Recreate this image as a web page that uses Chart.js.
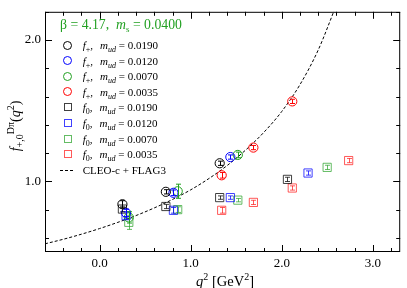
<!DOCTYPE html>
<html>
<head>
<meta charset="utf-8">
<script src="https://cdn.jsdelivr.net/npm/chart.js@4.4.0/dist/chart.umd.min.js"></script>
<style>
    body { margin: 0; background: #fff; }
    #wrap { position: relative; width: 407px; height: 288px; font-family: 'Liberation Serif', 'DejaVu Serif', serif; color: #000; }
    #chart { position: absolute; left: 0; top: 0; }
    .ov { position: absolute; white-space: nowrap; line-height: 1; }
    .ov sub, .ov sup { font-size: 10px; line-height: 0; }
    .ov sub { vertical-align: -3px; }
    .ov sup { vertical-align: 6px; }
    .row { position: absolute; left: 60px; height: 14px; font-size: 11px; line-height: 14px; white-space: nowrap; }
    .row sub { font-size: 8px; line-height: 0; vertical-align: -3px; }
    .sym { position: absolute; box-sizing: border-box; border: 1px solid; }
    .sym.c { width: 9px; height: 9px; border-radius: 50%; left: 3px; top: 2.5px; }
    .sym.s { width: 8px; height: 8px; left: 3.5px; top: 3px; }
    .row .txt { position: absolute; left: 22.7px; top: 0; }
    .gap { margin-left: 7px; }
</style>
</head>
<body>
<div id="wrap">
    <canvas id="chart" width="407" height="288"></canvas>
    <div class="ov" id="title" style="left:60px; top:18px; font-size:13.75px; color:#22a022;">β = 4.17,&nbsp; <i>m</i><sub style="font-size:9px">s</sub> = 0.0400</div>
    <div id="legend"></div>
    <div class="ov" style="left:16px; top:126px; font-size:14px; transform: translate(-50%,-50%) rotate(-90deg);"><i>f</i><sub>+,0</sub><sup>Dπ</sup>(<i>q</i><sup>2</sup>)</div>
    <div class="ov" style="left:225px; top:281px; font-size:14.5px; transform: translate(-50%,-50%);"><i>q</i><sup>2</sup> [GeV<sup>2</sup>]</div>
</div>
<script>
// ── Data ──

const q2_0190 = [0.25, 0.727, 1.318, 2.062];
const q2_0120 = [0.29, 0.81, 1.435, 2.288];
const q2_0070 = [0.32, 0.857, 1.517, 2.498];
const q2_0035 = [1.34, 1.688, 2.115, 2.734];

const fPlus_0190 = [0.838, 0.926, 1.128];
const fPlus_0120 = [0.777, 0.919, 1.172];
const fPlus_0070 = [0.745, 0.930, 1.187];
const fPlus_0035 = [1.043, 1.239, 1.566];

const fZero_0190 = [0.804, 0.822, 0.885, 1.014];
const fZero_0120 = [0.757, 0.795, 0.885, 1.059];
const fZero_0070 = [0.710, 0.800, 0.867, 1.099];
const fZero_0035 = [0.795, 0.851, 0.953, 1.147];

const errPlus_0190 = [0.025, 0.015, 0.015];
const errPlus_0120 = [0.025, 0.02, 0.015];
const errPlus_0070 = [0.04, 0.05, 0.02];
const errPlus_0035 = [0.02, 0.015, 0.015];

const errZero_0190 = [0.02, 0.015, 0.012, 0.015];
const errZero_0120 = [0.025, 0.02, 0.012, 0.015];
const errZero_0070 = [0.05, 0.02, 0.012, 0.015];
const errZero_0035 = [0.02, 0.015, 0.015, 0.015];

const curveQ2 = [-0.6, -0.4, -0.2, 0.0, 0.2, 0.4, 0.6, 0.8, 1.0, 1.2, 1.4, 1.6, 1.8, 2.0, 2.2, 2.4, 2.6];
const curveF  = [0.558, 0.590, 0.626, 0.666, 0.710, 0.758, 0.812, 0.872, 0.940, 1.020, 1.112, 1.220, 1.345, 1.495, 1.685, 1.930, 2.250];

const xTickLabels = [0, 1, 2, 3];
const yTickLabels = [1, 2];

const mudLabels = ['0.0190', '0.0120', '0.0070', '0.0035'];
const colors = ['#000000', '#0000ff', '#22a022', '#ff0000'];
const colorsZero = ['rgba(0,0,0,0.75)', 'rgba(0,0,255,0.75)', 'rgba(34,160,34,0.7)', 'rgba(255,0,0,0.65)'];

// ── Build datasets ──

const pts = (xs, ys) => ys.map((v, i) => ({ x: xs[i], y: v }));

const plusSets = [
    [q2_0190, fPlus_0190, errPlus_0190],
    [q2_0120, fPlus_0120, errPlus_0120],
    [q2_0070, fPlus_0070, errPlus_0070],
    [q2_0035, fPlus_0035, errPlus_0035],
];
const zeroSets = [
    [q2_0190, fZero_0190, errZero_0190],
    [q2_0120, fZero_0120, errZero_0120],
    [q2_0070, fZero_0070, errZero_0070],
    [q2_0035, fZero_0035, errZero_0035],
];

const datasets = [];
zeroSets.forEach(([q, f, e], i) => datasets.push({
    label: 'f0 ' + mudLabels[i],
    data: pts(q, f), err: e,
    pointStyle: 'rect', pointRadius: 5.8, pointHoverRadius: 5.8,
    borderColor: colorsZero[i], backgroundColor: 'rgba(0,0,0,0)', borderWidth: 1,
    showLine: false,
}));
plusSets.forEach(([q, f, e], i) => datasets.push({
    label: 'f+ ' + mudLabels[i],
    data: pts(q, f), err: e,
    pointStyle: 'circle', pointRadius: 4.6, pointHoverRadius: 4.6,
    borderColor: colors[i], backgroundColor: 'rgba(0,0,0,0)', borderWidth: 1,
    showLine: false,
}));
datasets.push({
    label: 'CLEO-c + FLAG3',
    data: pts(curveQ2, curveF),
    showLine: true, pointRadius: 0, borderColor: '#000', borderWidth: 1,
    borderDash: [3, 2], cubicInterpolationMode: 'monotone', fill: false,
});

// ── Plugins: error bars, frame with inward ticks ──

const errorBars = {
    id: 'errorBars',
    afterDatasetsDraw(chart) {
        const { ctx, scales: { x, y } } = chart;
        chart.data.datasets.forEach(ds => {
            if (!ds.err) return;
            ctx.save();
            ctx.strokeStyle = ds.borderColor;
            ctx.lineWidth = 1;
            ds.data.forEach((p, j) => {
                const px = Math.round(x.getPixelForValue(p.x)) + 0.5;
                const y1 = y.getPixelForValue(p.y - ds.err[j]);
                const y2 = y.getPixelForValue(p.y + ds.err[j]);
                ctx.beginPath();
                ctx.moveTo(px, y1); ctx.lineTo(px, y2);
                ctx.moveTo(px - 2.5, y1); ctx.lineTo(px + 2.5, y1);
                ctx.moveTo(px - 2.5, y2); ctx.lineTo(px + 2.5, y2);
                ctx.stroke();
            });
            ctx.restore();
        });
    }
};

const frameTicks = {
    id: 'frameTicks',
    afterDraw(chart) {
        const { ctx, chartArea: a, scales: { x, y } } = chart;
        ctx.save();
        ctx.strokeStyle = '#000';
        ctx.lineWidth = 1;
        ctx.strokeRect(a.left + 0.5, a.top + 0.5, a.right - a.left - 1, a.bottom - a.top - 1);
        ctx.beginPath();
        for (let k = -3; k <= 16; k++) {
            const v = k * 0.2;
            const len = k % 5 === 0 ? 7 : 4;
            const px = Math.round(x.getPixelForValue(v)) + 0.5;
            ctx.moveTo(px, a.bottom); ctx.lineTo(px, a.bottom - len);
            ctx.moveTo(px, a.top); ctx.lineTo(px, a.top + len);
        }
        for (let k = 3; k <= 11; k++) {
            const v = k * 0.2;
            const len = k % 5 === 0 ? 7 : 4;
            const py = Math.round(y.getPixelForValue(v)) + 0.5;
            ctx.moveTo(a.left, py); ctx.lineTo(a.left + len, py);
            ctx.moveTo(a.right, py); ctx.lineTo(a.right - len, py);
        }
        ctx.stroke();
        ctx.restore();
    }
};

const tickFont = { family: "'Liberation Serif', serif", size: 13 };

new Chart(document.getElementById('chart'), {
    type: 'scatter',
    data: { datasets },
    plugins: [errorBars, frameTicks],
    options: {
        responsive: false,
        animation: false,
        events: [],
        layout: { padding: { top: 1, right: 4, left: 0, bottom: 0 } },
        plugins: { legend: { display: false }, tooltip: { enabled: false } },
        scales: {
            x: {
                type: 'linear', min: -0.6, max: 3.3,
                grid: { display: false, drawTicks: false },
                border: { display: false },
                afterBuildTicks: s => { s.ticks = xTickLabels.map(v => ({ value: v })); },
                afterFit: s => { s.height = 36; },
                ticks: { color: '#000', font: tickFont, padding: 4, maxRotation: 0, callback: v => v.toFixed(1) },
            },
            y: {
                type: 'linear', min: 0.5, max: 2.2,
                grid: { display: false, drawTicks: false },
                border: { display: false },
                afterBuildTicks: s => { s.ticks = yTickLabels.map(v => ({ value: v })); },
                afterFit: s => { s.width = 45; },
                ticks: { color: '#000', font: tickFont, padding: 4, callback: v => v.toFixed(1) },
            },
        },
    },
});

// ── Legend (HTML, for sub/italic text) ──

const legendEl = document.getElementById('legend');
const rowsY = [45, 60.7, 76.2, 91.8, 107.4, 123, 138.7, 154.3, 170];
let html = '';
mudLabels.forEach((m, i) => {
    html += `<div class="row" style="top:${rowsY[i] - 7}px"><span class="sym c" style="border-color:${colors[i]}"></span>
        <span class="txt"><i>f</i><sub>+</sub>,<i class="gap">m</i><sub><i>ud</i></sub> = ${m}</span></div>`;
});
mudLabels.forEach((m, i) => {
    html += `<div class="row" style="top:${rowsY[i + 4] - 7}px"><span class="sym s" style="border-color:${colorsZero[i]}"></span>
        <span class="txt"><i>f</i><sub>0</sub>,<i class="gap">m</i><sub><i>ud</i></sub> = ${m}</span></div>`;
});
html += `<div class="row" style="top:${rowsY[8] - 7}px"><svg width="16" height="14" style="position:absolute;left:0;top:0">
    <line x1="0" y1="7.5" x2="15" y2="7.5" stroke="#000" stroke-width="1" stroke-dasharray="3,2"/></svg>
    <span class="txt">CLEO-c + FLAG3</span></div>`;
legendEl.innerHTML = html;
</script>
</body>
</html>
